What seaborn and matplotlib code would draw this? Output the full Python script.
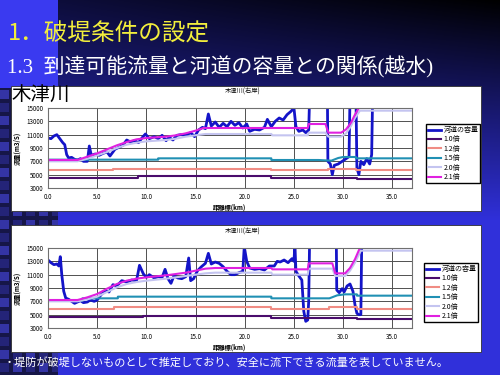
import numpy as np
import pandas as pd
import seaborn as sns
import matplotlib.pyplot as plt
from matplotlib.patches import Rectangle

plt.rcParams['font.family'] = ['Noto Sans CJK JP', 'DejaVu Sans']

SERIES = ['河道の容量', '1.0倍', '1.2倍', '1.5倍', '2.0倍', '2.1倍']
COLORS = ['#1414c8', '#4a0c6c', '#f08c84', '#2090b4', '#c4c4f0', '#e020e0']
XTICKS = [0, 5, 10, 15, 20, 25, 30, 35]
YTICKS = [3000, 5000, 7000, 9000, 11000, 13000, 15000]

# ---- 木津川(右岸) ----
r_cap_km = [0.0, 0.3, 0.6, 0.9, 1.1, 1.3, 1.5, 1.7, 1.9, 2.1, 2.4, 2.7, 3.0, 3.3, 3.6, 4.0, 4.2, 4.4,
            4.8, 5.2, 5.6, 6.0, 6.3, 6.8, 7.2, 7.6, 8.0, 8.4, 8.8, 9.2, 9.6, 9.9, 10.3, 10.8, 11.2,
            11.6, 12.0, 12.3, 12.7, 13.1, 13.5, 14.0, 14.5, 14.9, 15.3, 15.7, 16.0, 16.3, 16.6, 17.0,
            17.4, 17.8, 18.2, 18.6, 19.0, 19.4, 19.8, 20.2, 20.5, 21.0, 21.5, 22.0, 22.3, 22.7, 23.1,
            23.5, 23.9, 24.3, 24.7, 25.0, 25.2, 25.5, 25.9, 26.2, 26.5, 26.6, 28.4, 28.45, 28.7, 28.9,
            29.1, 29.5, 29.9, 30.3, 30.6, 30.7, 31.3, 31.4, 31.6, 31.8, 32.1, 32.4, 32.7, 32.9, 33.0]
r_cap_q = [10500, 10400, 10800, 11000, 10600, 10200, 9800, 9500, 8000, 7500, 7600, 7300, 7200, 7400,
           7000, 7000, 9300, 7900, 8100, 7900, 8200, 8400, 7800, 8800, 9100, 9400, 10200, 9900, 10100,
           9800, 10600, 11100, 10400, 10700, 10400, 10900, 10100, 10600, 10200, 10900, 11000, 10900,
           11300, 10700, 11700, 12100, 11900, 14100, 12300, 12900, 12100, 12700, 12200, 13000, 12400,
           12800, 12000, 12600, 11500, 11800, 11700, 12100, 13300, 12200, 13000, 13500, 13200, 14000,
           14500, 15000, 12200, 11500, 11700, 11300, 11700, 17000, 17000, 7000, 6600, 5000, 6400,
           6600, 7000, 7400, 7700, 17000, 17000, 6000, 5000, 7000, 6500, 7400, 6600, 8000, 17000]
r_10_km = [0, 9.1, 9.1, 22.7, 22.7, 31.4, 31.4, 37]
r_10_q = [4550, 4550, 4850, 4850, 4550, 4550, 4350, 4350]
r_12_km = [0, 6.6, 6.6, 22.7, 22.7, 28.5, 28.5, 31.3, 31.3, 37]
r_12_q = [5650, 5650, 5850, 5850, 5650, 5650, 5800, 5800, 5650, 5650]
r_15_km = [0, 11.2, 11.2, 22.7, 22.7, 27.5, 28.8, 29.5, 30.0, 31.3, 31.3, 37]
r_15_q = [7250, 7250, 7450, 7450, 7200, 7200, 7100, 7500, 7650, 7650, 7450, 7450]
r_20_km = [0, 3, 4, 5, 6, 7, 8, 9, 10, 11, 12, 13, 14, 15, 16, 22.7, 22.8, 26.4, 26.5, 28.2, 28.5,
           29.8, 30.3, 30.8, 31.2, 31.7, 37]
r_20_q = [7000, 7000, 7400, 7900, 8400, 9000, 9500, 9800, 10000, 10100, 10200, 10400, 10700, 10900,
          11100, 11100, 10900, 10900, 11300, 11300, 10700, 10700, 11200, 12300, 13500, 14600, 14600]
r_21_km = [0, 3, 4, 5, 6, 7, 8, 9, 10, 11, 12, 13, 14, 15, 15.8, 26.4, 26.5, 28.2, 28.5, 29.8, 30.3,
           30.8, 31.2, 31.6, 31.8]
r_21_q = [7200, 7200, 7700, 8200, 8800, 9400, 9900, 10300, 10500, 10600, 10700, 10900, 11200, 11600,
          12000, 12000, 12600, 12600, 11300, 11300, 11800, 12800, 14000, 15000, 15100]

# ---- 木津川(左岸) ----
l_cap_km = [0.0, 0.3, 0.6, 0.9, 1.1, 1.25, 1.4, 1.6, 1.8, 2.1, 2.4, 2.7, 3.0, 3.3, 3.6, 4.0, 4.3, 4.7,
            5.0, 5.4, 5.8, 6.2, 6.6, 7.0, 7.5, 8.0, 8.5, 9.0, 9.3, 9.7, 10.0, 10.3, 10.8, 11.2, 11.6,
            11.9, 12.2, 12.5, 12.8, 13.2, 13.6, 14.0, 14.3, 14.5, 14.8, 15.2, 15.6, 16.0, 16.3, 16.6,
            17.0, 17.4, 17.8, 18.2, 18.6, 19.0, 19.4, 19.8, 19.95, 20.2, 20.5, 21.0, 21.5, 22.0, 22.5,
            23.0, 23.3, 23.6, 24.0, 24.4, 24.8, 25.0, 25.1, 25.2, 25.5, 25.8, 26.0, 26.2, 26.4, 26.5,
            26.6, 29.3, 29.35, 29.6, 29.9, 30.1, 30.4, 30.7, 31.0, 31.2, 31.4, 31.6, 31.8, 31.9]
l_cap_q = [13200, 12800, 12500, 12600, 12300, 13700, 11000, 8500, 7500, 7300, 7000, 6700, 6900, 7100,
           6800, 6900, 7200, 7000, 7200, 8000, 8600, 8400, 9500, 9300, 10100, 9900, 10200, 10100,
           12400, 11100, 10600, 11000, 10500, 10700, 10600, 11800, 10400, 9700, 10800, 10500, 10400,
           10700, 13500, 10100, 10400, 11600, 12200, 12700, 14200, 12600, 12900, 12700, 12200, 11500,
           11000, 11000, 11300, 11500, 15200, 13000, 12000, 11800, 11900, 11700, 12300, 12300, 13000,
           12900, 13200, 12800, 13400, 13000, 15500, 11500, 10800, 10200, 5500, 4000, 4200, 7000,
           17000, 17000, 8700, 8300, 8900, 8400, 9300, 9600, 8500, 6500, 5200, 5000, 5000, 17000]
l_10_km = [0, 9.7, 9.7, 22.7, 22.7, 31.4, 31.4, 37]
l_10_q = [4600, 4600, 4800, 4800, 4550, 4550, 4350, 4350]
l_12_km = [0, 6.7, 6.7, 22.7, 22.7, 28.6, 28.6, 31.4, 31.4, 37]
l_12_q = [5900, 5900, 6100, 6100, 5900, 5900, 6100, 6100, 5900, 5900]
l_15_km = [0, 3.5, 3.5, 7.1, 7.1, 22.7, 22.7, 28.6, 29.4, 30.2, 31.4, 31.4, 37]
l_15_q = [7100, 7100, 7450, 7450, 7700, 7700, 7450, 7450, 7900, 8050, 8050, 7850, 7850]
l_20_km = [0, 3, 4, 5, 6, 7, 8, 9, 10, 12, 14, 16, 17, 22.7, 22.8, 26.4, 26.5, 28.9, 29.2, 30.2,
           30.7, 31.2, 31.8, 37]
l_20_q = [7000, 7000, 7300, 7700, 8400, 9100, 9600, 9900, 10100, 10400, 10800, 11200, 11300, 11300,
          11000, 11000, 11900, 11900, 10800, 10800, 11600, 12800, 14600, 14600]
l_21_km = [0, 3, 4, 5, 6, 7, 8, 9, 10, 12, 14, 15, 16, 17, 22.7, 22.8, 26.4, 26.5, 28.9, 29.2, 30.2,
           30.7, 31.2, 31.7, 31.9]
l_21_q = [7200, 7200, 7600, 8100, 8900, 9600, 10100, 10400, 10600, 10900, 11300, 11600, 11900, 12000,
          12000, 11800, 11800, 12700, 12700, 11200, 11200, 12000, 13300, 15000, 15100]


def make_df(pairs):
    frames = []
    for name, (km, q) in zip(SERIES, pairs):
        frames.append(pd.DataFrame({'km': km, 'q': q, 'series': name}))
    return pd.concat(frames, ignore_index=True)


df_r = make_df([(r_cap_km, r_cap_q), (r_10_km, r_10_q), (r_12_km, r_12_q),
                (r_15_km, r_15_q), (r_20_km, r_20_q), (r_21_km, r_21_q)])
df_l = make_df([(l_cap_km, l_cap_q), (l_10_km, l_10_q), (l_12_km, l_12_q),
                (l_15_km, l_15_q), (l_20_km, l_20_q), (l_21_km, l_21_q)])

W, H = 500, 375
fig = plt.figure(figsize=(5, 3.75), dpi=100)

# slide background
yy, xx = np.mgrid[0:H, 0:W]
base = np.array([48, 48, 218]) / 255
d = np.clip((1 - yy / 220) * (0.7 + 0.3 * xx / W), 0, 1)
img = base[None, None, :] * (1 - d[..., None])
left = xx < 58
img[left & (yy < 88)] = np.array([58, 58, 240]) / 255
img[left & (yy >= 88)] = np.array([22, 22, 72]) / 255
sq = left & (yy >= 90) & (xx % 13 < 9) & ((yy - 90) % 13 < 9)
img[sq & (((xx // 13) + (yy - 90) // 13) % 2 == 0)] = np.array([52, 52, 165]) / 255
img[sq & (((xx // 13) + (yy - 90) // 13) % 2 == 1)] = np.array([36, 36, 120]) / 255

bg = fig.add_axes([0, 0, 1, 1])
bg.imshow(img, extent=[0, W, H, 0], aspect='auto')
bg.set_xlim(0, W)
bg.set_ylim(H, 0)
bg.axis('off')

for top, bottom in [(86, 211), (225, 352)]:
    bg.add_patch(Rectangle((11, top), 470, bottom - top, fc='white', ec='#303030', lw=0.6))

bg.text(8, 34, '1．破堤条件の設定', color='#f2ee3c', fontsize=17, va='center')
bg.text(7, 67, '1.3  到達可能流量と河道の容量との関係(越水)', color='white', fontsize=15,
        va='center', family=['Liberation Serif', 'Noto Sans CJK JP'])
bg.text(11, 95, '木津川', color='black', fontsize=14, va='center')
bg.text(243, 92, '木津川(右岸)', fontsize=4.5, ha='center', va='center')
bg.text(243, 232, '木津川(左岸)', fontsize=4.5, ha='center', va='center')
bg.text(4, 362, '・堤防が破堤しないものとして推定しており、安全に流下できる流量を表していません。',
        color='white', fontsize=8, va='center')


def px_rect(l, t, r, b):
    return [l / W, 1 - b / H, (r - l) / W, (b - t) / H]


def draw(ax, df, leg_xy):
    sns.lineplot(data=df, x='km', y='q', hue='series', hue_order=SERIES, palette=COLORS,
                 estimator=None, sort=False, legend=False, ax=ax, linewidth=1.5)
    lines = ax.get_lines()
    lines[0].set_linewidth(2.0)
    ax.set_xlim(0, 37)
    ax.set_ylim(3000, 15000)
    ax.set_xticks(XTICKS)
    ax.set_xticklabels([f'{v:.1f}' for v in XTICKS])
    ax.set_yticks(YTICKS)
    ax.set_yticklabels([str(v) for v in YTICKS])
    ax.tick_params(labelsize=4.5, length=0, pad=3.5)
    ax.tick_params(axis='x', pad=3.5)
    ax.grid(True, color='#505050', lw=0.7)
    ax.set_axisbelow(True)
    for s in ax.spines.values():
        s.set_color('#707070')
        s.set_linewidth(0.8)
    ax.set_xlabel('距離標(km)', fontsize=4.5, fontweight='bold')
    ax.set_ylabel('流量(m3/S)', fontsize=4.5, fontweight='bold')
    ax.xaxis.set_label_coords(0.5, -0.19)
    ax.yaxis.set_label_coords(-0.075, 0.5)
    ax.legend(lines[:6], SERIES, loc='upper left', bbox_to_anchor=leg_xy,
              bbox_transform=bg.transData, fontsize=5, frameon=True, fancybox=False,
              edgecolor='black', framealpha=1, borderpad=0.3, labelspacing=0.2,
              handlelength=1.9, handletextpad=0.3, borderaxespad=0)


ax1 = fig.add_axes(px_rect(48, 108, 412, 188))
draw(ax1, df_r, (426, 124))
ax2 = fig.add_axes(px_rect(48, 248, 412, 328))
draw(ax2, df_l, (424, 263))

fig.savefig('out.png', dpi=100)
